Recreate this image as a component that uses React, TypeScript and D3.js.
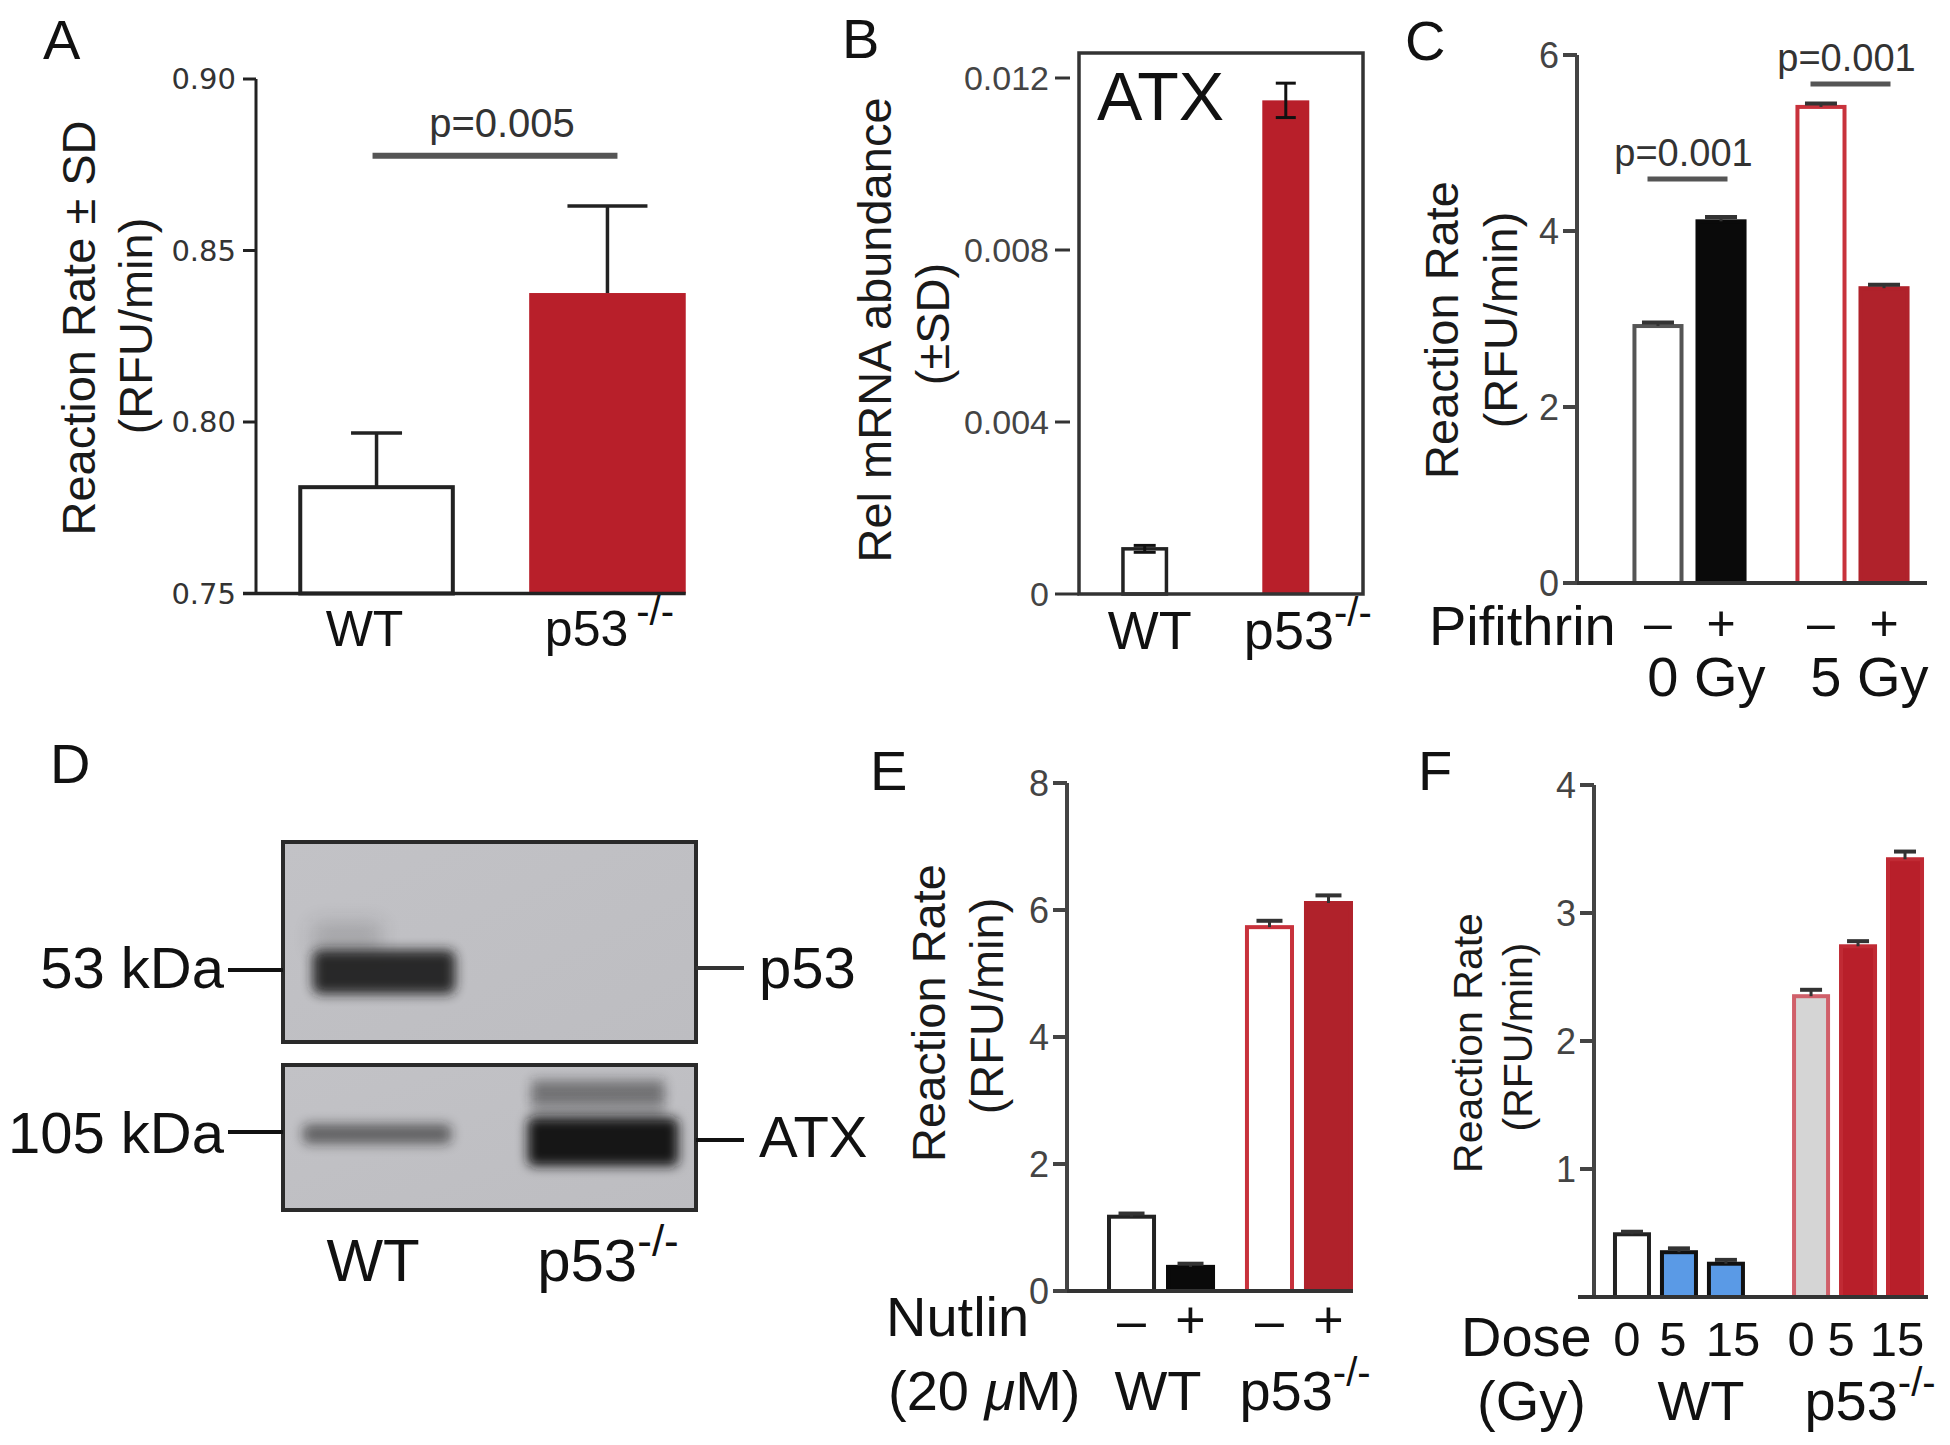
import React from "react";
import * as d3 from "d3";

const FONT = "'Liberation Sans', Arial, Helvetica, sans-serif";
const WIDE = "'DejaVu Sans', Verdana, sans-serif";

// ---------- Panel A ----------
const A_CATEGORIES = ["WT", "p53-/-"];
const A_VALUES = [0.781, 0.8376];
const A_SD = [0.0158, 0.0254];
const A_TICKS = [0.75, 0.8, 0.85, 0.9];
const A_SIG_LABEL = "p=0.005";
const A_SIG_LEVEL = 0.8776;

// ---------- Panel B ----------
const B_CATEGORIES = ["WT", "p53-/-"];
const B_VALUES = [0.00105, 0.01148];
const B_SD = [0.00008, 0.0004];
const B_TICKS = [0, 0.004, 0.008, 0.012];
const B_GENE = "ATX";

// ---------- Panel C ----------
const C_GROUPS = ["0 Gy", "5 Gy"];
const C_TREAT = ["–", "+"];
const C_VALUES = [[2.92, 4.11], [5.41, 3.35]];
const C_SD = [[0.04, 0.05], [0.04, 0.04]];
const C_TICKS = [0, 2, 4, 6];
const C_SIG_LABELS = ["p=0.001", "p=0.001"];
const C_SIG_LEVELS = [4.59, 5.67];

// ---------- Panel D (western blot) ----------
const D_LANES = ["WT", "p53-/-"];
const D_P53_BAND = [0.92, 0];
const D_ATX_BAND = [0.55, 1.0];
const D_ATX_UPPER = [0, 0.45];
const D_MARKERS_LEFT = ["53 kDa", "105 kDa"];
const D_MARKERS_RIGHT = ["p53", "ATX"];

// ---------- Panel E ----------
const E_GROUPS = ["WT", "p53-/-"];
const E_TREAT = ["–", "+"];
const E_VALUES = [[1.17, 0.38], [5.73, 6.11]];
const E_SD = [[0.05, 0.05], [0.1, 0.12]];
const E_TICKS = [0, 2, 4, 6, 8];

// ---------- Panel F ----------
const F_GROUPS = ["WT", "p53-/-"];
const F_DOSES = ["0", "5", "15"];
const F_VALUES = [[0.49, 0.35, 0.26], [2.35, 2.74, 3.42]];
const F_SD = [[0.02, 0.03, 0.03], [0.05, 0.04, 0.06]];
const F_TICKS = [1, 2, 3, 4];

const RED = "#B81F2A";
const RED2 = "#B0222B";

function P53Label({ x, y, size, supSize, gap = 0, anchor = "middle" }: any) {
  return (
    <text x={x} y={y} fontSize={size} textAnchor={anchor} fontFamily={FONT} fill="#111">
      p53
      <tspan fontSize={supSize} dx={gap} dy={-size * 0.42}>-/-</tspan>
    </text>
  );
}

function YLabel({ x, cy, text, size }: any) {
  return (
    <text transform={`translate(${x},${cy}) rotate(-90)`} textAnchor="middle" fontSize={size} fontFamily={FONT} fill="#1a1a1a">
      {text}
    </text>
  );
}

function PanelLetter({ x, y, t }: any) {
  return <text x={x} y={y} fontSize={56} fontFamily={FONT} fill="#111">{t}</text>;
}

function PanelA() {
  const y = d3.scaleLinear().domain([0.75, 0.9]).range([593.5, 79]);
  const x = d3.scaleBand().domain(A_CATEGORIES).range([256, 728]).paddingInner(0.322).paddingOuter(0.183);
  const bw = x.bandwidth();
  const caps = [51, 80];
  const c0 = (x(A_CATEGORIES[0]) as number) + bw / 2;
  const c1 = (x(A_CATEGORIES[1]) as number) + bw / 2;
  return (
    <g>
      <PanelLetter x={43} y={59} t="A" />
      {A_CATEGORIES.map((c, i) => {
        const x0 = x(c) as number;
        const cx = x0 + bw / 2;
        const top = y(A_VALUES[i]);
        const et = y(A_VALUES[i] + A_SD[i]);
        return (
          <g key={c}>
            {i === 0 ? (
              <rect x={x0 + 2} y={top} width={bw - 4} height={y(0.75) - top} fill="#fff" stroke="#222" strokeWidth={4} />
            ) : (
              <rect x={x0} y={top} width={bw} height={y(0.75) - top} fill={RED} />
            )}
            <line x1={cx} x2={cx} y1={top} y2={et} stroke="#222" strokeWidth={3.5} />
            <line x1={cx - caps[i] / 2} x2={cx + caps[i] / 2} y1={et} y2={et} stroke="#222" strokeWidth={3.5} />
          </g>
        );
      })}
      <line x1={256} x2={256} y1={79} y2={593.5} stroke="#222" strokeWidth={3} />
      <line x1={243} x2={(x(A_CATEGORIES[1]) as number) + bw} y1={593.5} y2={593.5} stroke="#222" strokeWidth={3.5} />
      {A_TICKS.map((t) => (
        <g key={t}>
          <line x1={243} x2={256} y1={y(t)} y2={y(t)} stroke="#222" strokeWidth={3} />
          <text x={236} y={y(t)} dy="0.36em" textAnchor="end" fontSize={29} fontFamily={WIDE} fill="#333">
            {d3.format(".2f")(t)}
          </text>
        </g>
      ))}
      <line x1={c0 - 4} x2={c1 + 10} y1={y(A_SIG_LEVEL)} y2={y(A_SIG_LEVEL)} stroke="#555" strokeWidth={6} />
      <text x={(c0 + c1) / 2 + 10} y={y(A_SIG_LEVEL) - 19} textAnchor="middle" fontSize={40} fontFamily={FONT} fill="#333">
        {A_SIG_LABEL}
      </text>
      <YLabel x={95} cy={328} text="Reaction Rate ± SD" size={47} />
      <YLabel x={152} cy={326} text="(RFU/min)" size={47} />
      <text x={c0 - 12} y={646} textAnchor="middle" fontSize={50} fontFamily={FONT} fill="#111">WT</text>
      <P53Label x={c1 + 2} y={646} size={50} supSize={40} gap={8} />
    </g>
  );
}

function PanelB() {
  const y = d3.scaleLinear().domain([0, 0.012]).range([594, 78]);
  const x = d3.scaleBand().domain(B_CATEGORIES).range([1079, 1363]).paddingInner(0.667).paddingOuter(0.34).align(0.44);
  const bw = x.bandwidth();
  return (
    <g>
      <PanelLetter x={842} y={58} t="B" />
      <text x={1097} y={120} fontSize={68} fontFamily={FONT} fill="#111">{B_GENE}</text>
      {B_CATEGORIES.map((c, i) => {
        const x0 = x(c) as number;
        const cx = x0 + bw / 2;
        const top = y(B_VALUES[i]);
        const hi = y(B_VALUES[i] + B_SD[i]);
        const lo = y(B_VALUES[i] - B_SD[i]);
        const cw = i === 0 ? 22 : 20;
        return (
          <g key={c}>
            {i === 0 ? (
              <rect x={x0 + 1.75} y={top} width={bw - 3.5} height={y(0) - top} fill="#fff" stroke="#222" strokeWidth={3.5} />
            ) : (
              <rect x={x0} y={top} width={bw} height={y(0) - top} fill={RED} />
            )}
            <line x1={cx} x2={cx} y1={hi} y2={lo} stroke="#111" strokeWidth={3} />
            <line x1={cx - cw / 2} x2={cx + cw / 2} y1={hi} y2={hi} stroke="#111" strokeWidth={3} />
            <line x1={cx - cw / 2} x2={cx + cw / 2} y1={lo} y2={lo} stroke="#111" strokeWidth={3} />
          </g>
        );
      })}
      <rect x={1079} y={53} width={284} height={541} fill="none" stroke="#333" strokeWidth={3.5} />
      {B_TICKS.map((t) => (
        <g key={t}>
          <line x1={1055} x2={t === 0 ? 1079 : 1070} y1={y(t)} y2={y(t)} stroke="#333" strokeWidth={3} />
          <text x={1049} y={y(t)} dy="0.36em" textAnchor="end" fontSize={34} fontFamily={FONT} fill="#444">
            {t === 0 ? "0" : d3.format(".3f")(t)}
          </text>
        </g>
      ))}
      <YLabel x={891} cy={330} text="Rel mRNA abundance" size={47} />
      <YLabel x={949} cy={324} text="(±SD)" size={47} />
      <text x={(x(B_CATEGORIES[0]) as number) + bw / 2 + 5} y={649} textAnchor="middle" fontSize={54} fontFamily={FONT} fill="#111">WT</text>
      <P53Label x={(x(B_CATEGORIES[1]) as number) + bw / 2 + 22} y={649} size={54} supSize={40} />
    </g>
  );
}

function PanelC() {
  const y = d3.scaleLinear().domain([0, 6]).range([583, 55]);
  const g = d3.scaleBand().domain(C_GROUPS).range([1608, 1934]).paddingInner(0.3).paddingOuter(0.15);
  const inner = d3.scaleBand().domain(C_TREAT).range([0, g.bandwidth()]).paddingInner(0.19);
  const bw = inner.bandwidth();
  const fills = [["#fff", "#0a0a0a"], ["#fff", RED2]];
  const strokes = [["#555", "#0a0a0a"], ["#C8323C", RED2]];
  return (
    <g>
      <PanelLetter x={1405} y={60} t="C" />
      {C_GROUPS.map((grp, gi) => {
        const gx = g(grp) as number;
        const gc = gx + g.bandwidth() / 2;
        const ly = y(C_SIG_LEVELS[gi]);
        return (
          <g key={grp}>
            {C_TREAT.map((t, ti) => {
              const x0 = gx + (inner(t) as number);
              const cx = x0 + bw / 2;
              const top = y(C_VALUES[gi][ti]);
              const et = y(C_VALUES[gi][ti] + C_SD[gi][ti]);
              return (
                <g key={t}>
                  <rect x={x0 + 2} y={top} width={bw - 4} height={y(0) - top} fill={fills[gi][ti]} stroke={strokes[gi][ti]} strokeWidth={4} />
                  <line x1={cx} x2={cx} y1={top} y2={et} stroke="#333" strokeWidth={3} />
                  <line x1={cx - 16} x2={cx + 16} y1={et} y2={et} stroke="#333" strokeWidth={4} />
                  <text x={cx} y={640} textAnchor="middle" fontSize={50} fontFamily={FONT} fill="#111">{t}</text>
                </g>
              );
            })}
            <line x1={gc - 42} x2={gc + 38} y1={ly} y2={ly} stroke="#555" strokeWidth={5} />
            <text x={gc - 6} y={ly - 13} textAnchor="middle" fontSize={38} fontFamily={FONT} fill="#333">{C_SIG_LABELS[gi]}</text>
            <text x={gc + 17} y={696} textAnchor="middle" fontSize={56} fontFamily={FONT} fill="#111">{grp}</text>
          </g>
        );
      })}
      <line x1={1577} x2={1577} y1={55} y2={583} stroke="#444" strokeWidth={4} />
      <line x1={1563} x2={1927} y1={583} y2={583} stroke="#333" strokeWidth={4} />
      {C_TICKS.map((t) => (
        <g key={t}>
          <line x1={1563} x2={1577} y1={y(t)} y2={y(t)} stroke="#444" strokeWidth={4} />
          <text x={1559} y={y(t)} dy="0.36em" textAnchor="end" fontSize={36} fontFamily={FONT} fill="#444">{t}</text>
        </g>
      ))}
      <text x={1429} y={645} fontSize={56} fontFamily={FONT} fill="#111">Pifithrin</text>
      <YLabel x={1458} cy={330} text="Reaction Rate" size={47} />
      <YLabel x={1517} cy={320} text="(RFU/min)" size={47} />
    </g>
  );
}

function PanelD() {
  const lane = d3.scaleBand().domain(D_LANES).range([283, 696]).paddingInner(0.296).paddingOuter(0.1);
  const lw = lane.bandwidth();
  const topBox = { y: 842, h: 200 };
  const botBox = { y: 1065, h: 145 };
  return (
    <g>
      <defs>
        <filter id="blur6" x="-30%" y="-80%" width="160%" height="260%">
          <feGaussianBlur stdDeviation="6" />
        </filter>
        <filter id="blur10" x="-30%" y="-80%" width="160%" height="260%">
          <feGaussianBlur stdDeviation="10" />
        </filter>
        <linearGradient id="blotbg" x1="0" y1="0" x2="1" y2="1">
          <stop offset="0" stopColor="#C2C2C6" />
          <stop offset="1" stopColor="#BDBDC1" />
        </linearGradient>
      </defs>
      <PanelLetter x={50} y={783} t="D" />
      <rect x={283} y={topBox.y} width={413} height={topBox.h} fill="url(#blotbg)" />
      <rect x={283} y={botBox.y} width={413} height={botBox.h} fill="url(#blotbg)" />
      {D_LANES.map((l, i) => {
        const x0 = lane(l) as number;
        return (
          <g key={l}>
            {D_P53_BAND[i] > 0 && (
              <g>
                <rect x={x0 + 8} y={922} width={lw * 0.45} height={32} fill="#1a1a1a" opacity={D_P53_BAND[i] * 0.18} filter="url(#blur10)" />
                <rect x={x0 + 8} y={950} width={lw - 10} height={44} rx={8} fill="#1c1c1c" opacity={D_P53_BAND[i]} filter="url(#blur6)" />
              </g>
            )}
            {D_ATX_UPPER[i] > 0 && (
              <g>
                <rect x={x0 + 10} y={1080} width={lw - 20} height={22} fill="#1a1a1a" opacity={D_ATX_UPPER[i]} filter="url(#blur6)" />
                <rect x={x0 + 10} y={1096} width={lw - 20} height={28} fill="#1a1a1a" opacity={D_ATX_UPPER[i] * 0.5} filter="url(#blur6)" />
              </g>
            )}
            <rect
              x={x0 + (i === 0 ? -2 : 6)}
              y={i === 0 ? 1124 : 1118}
              width={lw - (i === 0 ? 4 : 2)}
              height={i === 0 ? 20 : 48}
              rx={6}
              fill="#151515"
              opacity={D_ATX_BAND[i]}
              filter="url(#blur6)"
            />
          </g>
        );
      })}
      <rect x={283} y={topBox.y} width={413} height={topBox.h} fill="none" stroke="#2a2a2a" strokeWidth={4} />
      <rect x={283} y={botBox.y} width={413} height={botBox.h} fill="none" stroke="#2a2a2a" strokeWidth={4} />
      <line x1={228} x2={283} y1={970} y2={970} stroke="#111" strokeWidth={4} />
      <line x1={228} x2={283} y1={1132} y2={1132} stroke="#111" strokeWidth={4} />
      <line x1={696} x2={744} y1={968} y2={968} stroke="#333" strokeWidth={4} />
      <line x1={696} x2={744} y1={1140} y2={1140} stroke="#111" strokeWidth={4} />
      <text x={224} y={988} textAnchor="end" fontSize={58} fontFamily={FONT} fill="#111">{D_MARKERS_LEFT[0]}</text>
      <text x={224} y={1153} textAnchor="end" fontSize={58} fontFamily={FONT} fill="#111">{D_MARKERS_LEFT[1]}</text>
      <text x={759} y={988} fontSize={58} fontFamily={FONT} fill="#111">{D_MARKERS_RIGHT[0]}</text>
      <text x={759} y={1157} fontSize={58} fontFamily={FONT} fill="#111">{D_MARKERS_RIGHT[1]}</text>
      <text x={(lane(D_LANES[0]) as number) + lw / 2 - 8} y={1281} textAnchor="middle" fontSize={60} fontFamily={FONT} fill="#111">WT</text>
      <P53Label x={(lane(D_LANES[1]) as number) + lw / 2 + 10} y={1281} size={60} supSize={44} />
    </g>
  );
}

function PanelE() {
  const y = d3.scaleLinear().domain([0, 8]).range([1291, 783]);
  const g = d3.scaleBand().domain(E_GROUPS).range([1067, 1393]).paddingInner(0.217).paddingOuter(0.29);
  const inner = d3.scaleBand().domain(E_TREAT).range([0, g.bandwidth()]).paddingInner(0.169);
  const bw = inner.bandwidth();
  const fills = [["#fff", "#0a0a0a"], ["#fff", RED2]];
  const strokes = [["#222", "#0a0a0a"], ["#C8323C", RED2]];
  return (
    <g>
      <PanelLetter x={870} y={790} t="E" />
      {E_GROUPS.map((grp, gi) => {
        const gx = g(grp) as number;
        const gc = gx + g.bandwidth() / 2;
        return (
          <g key={grp}>
            {E_TREAT.map((t, ti) => {
              const x0 = gx + (inner(t) as number);
              const cx = x0 + bw / 2;
              const top = y(E_VALUES[gi][ti]);
              const et = y(E_VALUES[gi][ti] + E_SD[gi][ti]);
              return (
                <g key={t}>
                  <rect x={x0 + 2} y={top} width={bw - 4} height={y(0) - top} fill={fills[gi][ti]} stroke={strokes[gi][ti]} strokeWidth={4} />
                  <line x1={cx} x2={cx} y1={top} y2={et} stroke="#333" strokeWidth={3} />
                  <line x1={cx - 13} x2={cx + 13} y1={et} y2={et} stroke="#333" strokeWidth={4} />
                  <text x={cx} y={1338} textAnchor="middle" fontSize={52} fontFamily={FONT} fill="#111">{t}</text>
                </g>
              );
            })}
            {gi === 0 ? (
              <text x={gc - 3} y={1410} textAnchor="middle" fontSize={56} fontFamily={FONT} fill="#111">{grp}</text>
            ) : (
              <P53Label x={gc + 6} y={1410} size={56} supSize={40} />
            )}
          </g>
        );
      })}
      <line x1={1067} x2={1067} y1={783} y2={1291} stroke="#444" strokeWidth={4} />
      <line x1={1053} x2={1353} y1={1291} y2={1291} stroke="#333" strokeWidth={4} />
      {E_TICKS.map((t) => (
        <g key={t}>
          <line x1={1053} x2={1067} y1={y(t)} y2={y(t)} stroke="#444" strokeWidth={4} />
          <text x={1049} y={y(t)} dy="0.36em" textAnchor="end" fontSize={36} fontFamily={FONT} fill="#444">{t}</text>
        </g>
      ))}
      <text x={886} y={1336} fontSize={56} fontFamily={FONT} fill="#111">Nutlin</text>
      <text x={888} y={1410} fontSize={56} fontFamily={FONT} fill="#111">
        (20 <tspan fontStyle="italic">μ</tspan>M)
      </text>
      <YLabel x={945} cy={1013} text="Reaction Rate" size={47} />
      <YLabel x={1003} cy={1006} text="(RFU/min)" size={47} />
    </g>
  );
}

function PanelF() {
  const y = d3.scaleLinear().domain([0, 4]).range([1297, 785]);
  const g = d3.scaleBand().domain(F_GROUPS).range([1594, 1943]).paddingInner(0.263).paddingOuter(0.106);
  const inner = d3.scaleBand().domain(F_DOSES).range([0, g.bandwidth()]).paddingInner(0.191);
  const bw = inner.bandwidth();
  const fills = [["#fff", "#5A9AE6", "#5A9AE6"], ["#D5D5D5", RED, RED]];
  const strokes = [["#222", "#111", "#111"], ["#D0606A", "#C02A34", "#C02A34"]];
  const labelShift = [[-5, -6, 7], [-10, -17, -8]];
  return (
    <g>
      <PanelLetter x={1418} y={790} t="F" />
      {F_GROUPS.map((grp, gi) => {
        const gx = g(grp) as number;
        const gc = gx + g.bandwidth() / 2;
        return (
          <g key={grp}>
            {F_DOSES.map((d, di) => {
              const x0 = gx + (inner(d) as number);
              const cx = x0 + bw / 2;
              const top = y(F_VALUES[gi][di]);
              const et = y(F_VALUES[gi][di] + F_SD[gi][di]);
              return (
                <g key={d}>
                  <rect x={x0 + 2} y={top} width={bw - 4} height={y(0) - top} fill={fills[gi][di]} stroke={strokes[gi][di]} strokeWidth={4} />
                  <line x1={cx} x2={cx} y1={top} y2={et} stroke="#333" strokeWidth={3} />
                  <line x1={cx - 11} x2={cx + 11} y1={et} y2={et} stroke="#333" strokeWidth={4} />
                  <text x={cx + labelShift[gi][di]} y={1356} textAnchor="middle" fontSize={49} fontFamily={FONT} fill="#111">{d}</text>
                </g>
              );
            })}
            {gi === 0 ? (
              <text x={gc + 22} y={1420} textAnchor="middle" fontSize={56} fontFamily={FONT} fill="#111">{grp}</text>
            ) : (
              <P53Label x={gc + 12} y={1420} size={56} supSize={40} />
            )}
          </g>
        );
      })}
      <line x1={1594} x2={1594} y1={785} y2={1297} stroke="#444" strokeWidth={4} />
      <line x1={1578} x2={1928} y1={1297} y2={1297} stroke="#333" strokeWidth={4} />
      {F_TICKS.map((t) => (
        <g key={t}>
          <line x1={1580} x2={1594} y1={y(t)} y2={y(t)} stroke="#444" strokeWidth={4} />
          <text x={1576} y={y(t)} dy="0.36em" textAnchor="end" fontSize={36} fontFamily={FONT} fill="#444">{t}</text>
        </g>
      ))}
      <text x={1461} y={1356} fontSize={56} fontFamily={FONT} fill="#111">Dose</text>
      <text x={1477} y={1420} fontSize={56} fontFamily={FONT} fill="#111">(Gy)</text>
      <YLabel x={1482} cy={1043} text="Reaction Rate" size={41} />
      <YLabel x={1532} cy={1037} text="(RFU/min)" size={41} />
    </g>
  );
}

export default function App() {
  return (
    <svg
      width={1950}
      height={1445}
      viewBox="0 0 1950 1445"
      style={{ position: "absolute", left: 0, top: 0, background: "#fff" }}
      fontFamily={FONT}
    >
      <rect x={0} y={0} width={1950} height={1445} fill="#fff" />
      <PanelA />
      <PanelB />
      <PanelC />
      <PanelD />
      <PanelE />
      <PanelF />
    </svg>
  );
}
